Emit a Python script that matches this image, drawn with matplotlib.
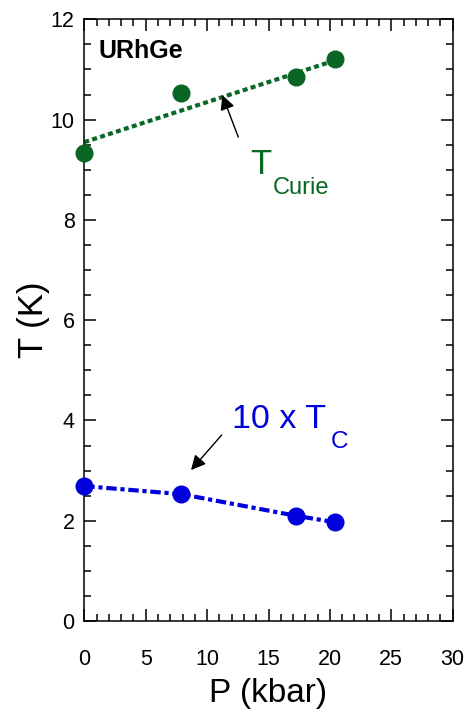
import matplotlib
matplotlib.use("Agg")
import matplotlib.pyplot as plt
from matplotlib.ticker import MultipleLocator

plt.rcParams['font.family'] = ['Liberation Sans', 'DejaVu Sans']

# Data
P_curie = [0.0, 7.9, 17.2, 20.4]
T_curie = [9.33, 10.54, 10.84, 11.2]
fit_P = [0.0, 20.4]
fit_T = [9.55, 11.18]

P_sc = [0.0, 7.9, 17.2, 20.4]
T_sc = [2.69, 2.53, 2.10, 1.97]

green = '#0a6624'
blue = '#0000dc'

fig = plt.figure(figsize=(4.67, 7.18), dpi=100)
ax = fig.add_axes([0.1805, 0.1351, 0.9694 - 0.1805, 0.9731 - 0.1351])

ax.plot(fit_P, fit_T, color=green, lw=3, linestyle=(0, (1.2, 0.8)), zorder=2)
ax.plot(P_curie, T_curie, 'o', color=green, ms=12, zorder=3, clip_on=False)

ax.plot(P_sc, T_sc, color=blue, lw=3, linestyle=(0, (2.5, 0.9, 1, 0.9)), zorder=2)
ax.plot(P_sc, T_sc, 'o', color=blue, ms=12, zorder=3, clip_on=False, lw=0)

ax.set_xlim(0, 30)
ax.set_ylim(0, 12)
ax.xaxis.set_major_locator(MultipleLocator(5))
ax.xaxis.set_minor_locator(MultipleLocator(1))
ax.yaxis.set_major_locator(MultipleLocator(2))
ax.yaxis.set_minor_locator(MultipleLocator(0.5))

ax.tick_params(which='both', direction='in', top=True, right=True, width=1.1, labelsize=15.5)
ax.tick_params(which='major', length=8.5)
ax.tick_params(which='minor', length=5)
ax.tick_params(axis='x', which='major', pad=20)
ax.tick_params(axis='y', which='major', pad=7)
for s in ax.spines.values():
    s.set_linewidth(1.1)

ax.set_xlabel('P (kbar)', fontsize=24)
ax.set_ylabel('T (K)', fontsize=25)
ax.xaxis.set_label_coords(0.5, -0.094)
ax.yaxis.set_label_coords(-0.093, 0.5)

ax.text(1.14, 11.36, 'URhGe', fontsize=18, fontweight='bold', va='center', ha='left')

# T_Curie label
ax.text((250 - 84.3) / 12.28, (621 - 174) / 50.14, 'T', fontsize=25, color=green, ha='left', va='baseline')
ax.text((272.7 - 84.3) / 12.28, (621 - 194) / 50.14, 'Curie', fontsize=17, color=green, ha='left', va='baseline')

# 10 x T_C label
ax.text((231.7 - 84.3) / 12.28, (621 - 428) / 50.14, '10 x T', fontsize=24.5, color=blue, ha='left', va='baseline')
ax.text((331 - 84.3) / 12.28, (621 - 448) / 50.14, 'C', fontsize=17.5, color=blue, ha='left', va='baseline')

arrow = dict(arrowstyle='-|>', color='black', lw=1, mutation_scale=22, shrinkA=0, shrinkB=0)
ax.annotate('', xy=(11.24, 10.49), xytext=(12.54, 9.65), arrowprops=arrow)
ax.annotate('', xy=(8.69, 3.01), xytext=(11.19, 3.71), arrowprops=arrow)

fig.savefig('out.png', dpi=100)
